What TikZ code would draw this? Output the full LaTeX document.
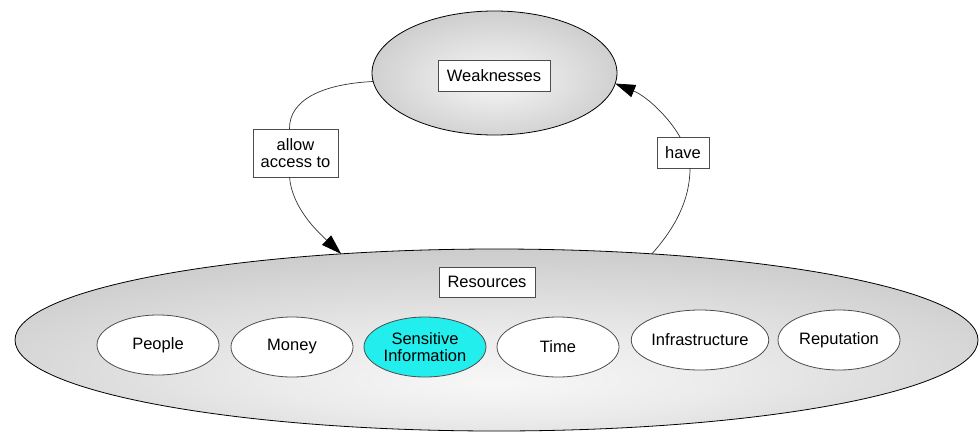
\documentclass[tikz,border=0pt]{standalone}
\usepackage{fontspec}
\setmainfont{Liberation Sans}
\usetikzlibrary{arrows.meta,shapes.geometric}

\definecolor{glowhi}{gray}{0.97}
\definecolor{glowsoft}{gray}{0.92}
\definecolor{glowmid}{gray}{0.80}
\definecolor{glowlo}{gray}{0.62}
\definecolor{framegray}{gray}{0.3}
\definecolor{infocyan}{HTML}{22EEEE}

% soft grey glows for the two container ellipses
\pgfdeclareradialshading{resglow}{\pgfpoint{0bp}{-12bp}}{%
  color(0bp)=(glowhi); color(12bp)=(glowsoft); color(32bp)=(glowmid);
  color(52bp)=(glowlo); color(75bp)=(glowlo)}
\pgfdeclareradialshading{weakglow}{\pgfpoint{0bp}{-3bp}}{%
  color(0bp)=(glowhi); color(8bp)=(glowsoft); color(28bp)=(glowmid);
  color(51bp)=(glowlo); color(60bp)=(glowlo)}

\begin{document}
\begin{tikzpicture}[x=1pt,y=-1pt,
  font=\fontsize{16.5}{17}\selectfont,
  every node/.style={outer sep=0pt},
  container/.style={ellipse, draw=black, line width=0.8pt, inner sep=0pt},
  item/.style={ellipse, draw=framegray, line width=0.8pt, fill=white,
    minimum width=122pt, minimum height=60pt, inner sep=0pt, align=center},
  tag/.style={rectangle, draw=framegray, line width=0.8pt, fill=white,
    inner xsep=7pt, inner ysep=0pt, minimum height=31pt, align=center},
  conn/.style={draw=black!80, line width=0.7pt},
  head/.style={-{Triangle[length=20pt,width=13pt,color=black]}}
]
\useasboundingbox (0,0) rectangle (979,434);

% containers
\node[container, shading=resglow, minimum width=963pt, minimum height=182pt]
  (res) at (496.5,340) {};
\node[container, shading=weakglow, minimum width=245pt, minimum height=124pt]
  (weak) at (494.5,73) {};

% labels of the containers
\node[tag, minimum width=112pt] (weaklbl) at (494,76) {Weaknesses};
\node[tag, minimum width=96pt, minimum height=30pt] (reslbl) at (487,282) {Resources};

% the resources
\node[item] (people) at (158,345) {People};
\node[item] (money) at (292,347) {Money};
\node[item, fill=infocyan] (info) at (425,347) {Sensitive\\Information};
\node[item] (time) at (558,347) {Time};
\node[item, minimum width=133pt] (infra) at (700,340) {Infrastructure};
\node[item] (rep) at (839,340) {Reputation};

% relation labels
\node[tag, minimum width=85pt, minimum height=48pt] (allow) at (295.5,153)
  {allow\\access to};
\node[tag, minimum width=52pt] (have) at (683,152.5) {have};

% weaknesses allow access to resources
\draw[conn] (weak.184) .. controls (322,84) and (289,100) .. ([xshift=-6pt]allow.north);
\draw[conn,head] ([xshift=-6pt]allow.south) .. controls (292,208) and (318,232) .. (res.151);

% resources have weaknesses
\draw[conn] (res.29) .. controls (675,228) and (690,200) .. ([xshift=7pt]have.south);
\draw[conn,head] ([xshift=-3pt]have.north) .. controls (668,116) and (646,96) .. (weak.355);
\end{tikzpicture}
\end{document}
